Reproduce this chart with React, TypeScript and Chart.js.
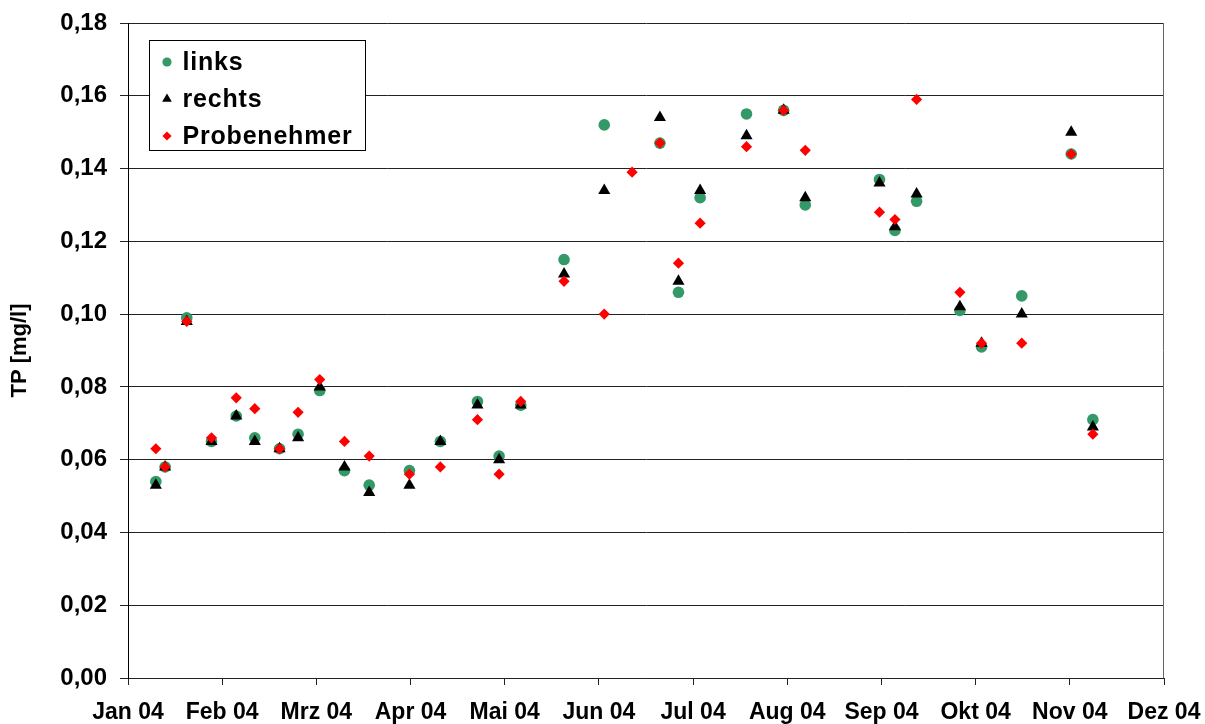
import React, { useEffect, useRef } from "react";
import { Chart, registerables } from "chart.js";

Chart.register(...registerables);

// ---------- data ----------
const monthLabels = [
  "Jan 04", "Feb 04", "Mrz 04", "Apr 04", "Mai 04", "Jun 04",
  "Jul 04", "Aug 04", "Sep 04", "Okt 04", "Nov 04", "Dez 04",
];
const axisStartDate = "2004-01-01";
const axisEndDate = "2004-12-01";

const sampleDates = [
  "2004-01-10", "2004-01-13", "2004-01-20", "2004-01-28", "2004-02-05",
  "2004-02-11", "2004-02-19", "2004-02-25", "2004-03-03", "2004-03-11",
  "2004-03-19", "2004-04-01", "2004-04-11", "2004-04-23", "2004-04-30",
  "2004-05-07", "2004-05-21", "2004-06-03", "2004-06-12", "2004-06-21",
  "2004-06-27", "2004-07-04", "2004-07-19", "2004-07-31", "2004-08-07",
  "2004-08-31", "2004-09-05", "2004-09-12", "2004-09-26", "2004-10-03",
  "2004-10-16", "2004-11-01", "2004-11-08",
];

const links: (number | null)[] = [
  0.054, 0.058, 0.099, 0.065, 0.072, 0.066, 0.063, 0.067, 0.079, 0.057,
  0.053, 0.057, 0.065, 0.076, 0.061, 0.075, 0.115, 0.152, null, 0.147,
  0.106, 0.132, 0.155, 0.156, 0.130, 0.137, 0.123, 0.131, 0.101, 0.091,
  0.105, 0.144, 0.071,
];
const rechts: (number | null)[] = [
  0.053, 0.058, 0.098, 0.065, 0.072, 0.065, 0.063, 0.066, 0.080, 0.058,
  0.051, 0.053, 0.065, 0.075, 0.060, 0.075, 0.111, 0.134, null, 0.154,
  0.109, 0.134, 0.149, 0.156, 0.132, 0.136, 0.124, 0.133, 0.102, 0.092,
  0.100, 0.150, 0.069,
];
const probenehmer: (number | null)[] = [
  0.063, 0.058, 0.098, 0.066, 0.077, 0.074, 0.063, 0.073, 0.082, 0.065,
  0.061, 0.056, 0.058, 0.071, 0.056, 0.076, 0.109, 0.100, 0.139, 0.147,
  0.114, 0.125, 0.146, 0.156, 0.145, 0.128, 0.126, 0.159, 0.106, 0.092,
  0.092, 0.144, 0.067,
];

const yMin = 0;
const yMax = 0.18;
const yStep = 0.02;
const yTitle = "TP [mg/l]";

// ---------- helpers ----------
const DAY = 86400000;
const dayOf = (d: string) => (Date.parse(d) - Date.parse(axisStartDate)) / DAY;
const xSpan = dayOf(axisEndDate);

const toPoints = (vals: (number | null)[]) =>
  sampleDates
    .map((d, i) => ({ x: dayOf(d), y: vals[i] }))
    .filter((p) => p.y !== null) as { x: number; y: number }[];

const FONT = '"Liberation Sans", Arial, Helvetica, sans-serif';

const frameAndLegend = {
  id: "frameAndLegend",
  beforeDatasetsDraw(chart: any) {
    const { ctx, chartArea } = chart;
    ctx.save();
    ctx.strokeStyle = "#666";
    ctx.lineWidth = 1;
    ctx.beginPath();
    const rx = Math.round(chartArea.right) - 0.5;
    ctx.moveTo(rx, chartArea.top);
    ctx.lineTo(rx, chartArea.bottom);
    ctx.stroke();

    // legend box
    const bx = Math.round(chartArea.left) + 21.5;
    const by = Math.round(chartArea.top) + 17.5;
    const bw = 216;
    const bh = 110;
    ctx.fillStyle = "#fff";
    ctx.fillRect(bx, by, bw, bh);
    ctx.strokeStyle = "#000";
    ctx.strokeRect(bx, by, bw, bh);

    const datasets = chart.data.datasets;
    ctx.font = `bold 25px ${FONT}`;
    (ctx as any).letterSpacing = "0.8px";
    ctx.textBaseline = "alphabetic";
    ctx.textAlign = "left";
    datasets.forEach((ds: any, i: number) => {
      const baseY = by + 29.5 + i * 37;
      const mx = bx + 17.5;
      const my = baseY - 8;
      ctx.fillStyle = ds.backgroundColor;
      ctx.beginPath();
      if (ds.pointStyle === "circle") {
        ctx.arc(mx, my, 4.6, 0, Math.PI * 2);
      } else if (ds.pointStyle === "triangle") {
        const r = 5.6;
        ctx.moveTo(mx, my - r);
        ctx.lineTo(mx + r * Math.cos(Math.PI / 6), my + r / 2);
        ctx.lineTo(mx - r * Math.cos(Math.PI / 6), my + r / 2);
        ctx.closePath();
      } else {
        const r = 4.6;
        ctx.moveTo(mx, my - r);
        ctx.lineTo(mx + r, my);
        ctx.lineTo(mx, my + r);
        ctx.lineTo(mx - r, my);
        ctx.closePath();
      }
      ctx.fill();
      ctx.fillStyle = "#000";
      ctx.fillText(ds.label, bx + 33, baseY);
    });
    ctx.restore();
  },
};

export default function App() {
  const ref = useRef<HTMLCanvasElement | null>(null);

  useEffect(() => {
    if (!ref.current) return;
    Chart.defaults.font.family = FONT;
    const chart = new Chart(ref.current, {
      type: "scatter",
      data: {
        datasets: [
          {
            label: "links",
            data: toPoints(links),
            pointStyle: "circle",
            backgroundColor: "#339966",
            borderColor: "#339966",
            pointRadius: 5.8,
            borderWidth: 0,
            order: 3,
          },
          {
            label: "rechts",
            data: toPoints(rechts),
            pointStyle: "triangle",
            backgroundColor: "#000000",
            borderColor: "#000000",
            pointRadius: 7,
            borderWidth: 0,
            order: 2,
          },
          {
            label: "Probenehmer",
            data: toPoints(probenehmer),
            pointStyle: "rectRot",
            backgroundColor: "#ff0000",
            borderColor: "#ff0000",
            pointRadius: 5.6,
            borderWidth: 0,
            order: 1,
          },
        ],
      },
      options: {
        animation: false,
        responsive: false,
        devicePixelRatio: 1,
        layout: { padding: { left: 0, top: 23, right: 41, bottom: 0 } },
        plugins: {
          legend: { display: false },
          tooltip: { enabled: false },
        },
        scales: {
          x: {
            type: "linear",
            min: 0,
            max: xSpan,
            afterBuildTicks: (scale: any) => {
              scale.ticks = monthLabels.map((_, i) => ({
                value: (i * xSpan) / (monthLabels.length - 1),
              }));
            },
            afterFit: (scale: any) => {
              scale.height = 46;
              scale.paddingLeft = 0;
              scale.paddingRight = 0;
            },
            ticks: {
              autoSkip: false,
              maxRotation: 0,
              color: "#000",
              padding: 14,
              font: { size: 23, weight: "bold" },
              callback: (_v: any, i: number) => monthLabels[i],
            },
            grid: {
              drawOnChartArea: false,
              drawTicks: true,
              tickLength: 7,
              color: "#222",
            },
            border: { display: true, color: "#222", width: 1 },
          },
          y: {
            type: "linear",
            min: yMin,
            max: yMax,
            afterFit: (scale: any) => {
              scale.width = 128;
              scale.paddingTop = 0;
              scale.paddingBottom = 0;
            },
            ticks: {
              stepSize: yStep,
              color: "#000",
              padding: 13,
              font: { size: 24, weight: "bold" },
              callback: (v: any) => Number(v).toFixed(2).replace(".", ","),
            },
            grid: {
              color: "#222",
              lineWidth: 1,
              tickLength: 8,
            },
            border: { display: true, color: "#000", width: 1 },
            title: {
              display: true,
              text: yTitle,
              color: "#000",
              font: { size: 22, weight: "bold" },
              padding: { top: 7, bottom: 0 },
            },
          },
        },
      },
      plugins: [frameAndLegend],
    } as any);
    return () => chart.destroy();
  }, []);

  return (
    <div
      style={{
        position: "fixed",
        left: 0,
        top: 0,
        width: 1205,
        height: 724,
        background: "#fff",
      }}
    >
      <canvas ref={ref} width={1205} height={724} />
    </div>
  );
}
